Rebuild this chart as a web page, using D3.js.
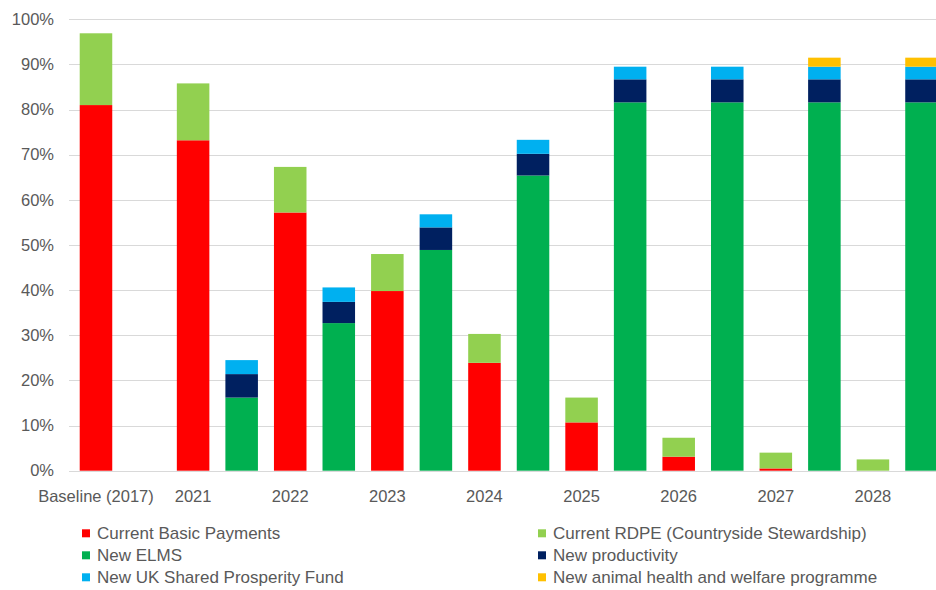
<!DOCTYPE html>
<html lang="en">
<head>
    <meta charset="UTF-8">
    <title>Farm payments transition</title>
    <script src="https://d3js.org/d3.v7.min.js"></script>
    <style>
        body { margin: 0; background: #fff; }
        svg { display: block; }
        .tick-label, .legend-label {
            font-family: "Liberation Sans", Arial, sans-serif;
            font-size: 16.5px;
            fill: #595959;
        }
        .legend-label { font-size: 17px; }
        .grid line { stroke: #d9d9d9; stroke-width: 1; }
    </style>
</head>
<body>
    <svg class="chart" width="936" height="590"></svg>

    <script>
        // One slot per bar; the "current" and "new" bar of a year sit side by side
        const slotLabels = ["Baseline (2017)", "", "2021", "", "2022", "", "2023", "", "2024", "",
                            "2025", "", "2026", "", "2027", "", "2028", ""];

        const basicPayments = [81.0, 0, 73.2, 0, 57.2, 0, 39.8, 0, 23.9, 0, 10.7, 0, 3.1, 0, 0.5, 0, 0, 0];
        const rdpe          = [15.9, 0, 12.6, 0, 10.1, 0, 8.2, 0, 6.4, 0, 5.5, 0, 4.2, 0, 3.5, 0, 2.5, 0];
        const newElms       = [0, 0, 0, 16.2, 0, 32.7, 0, 48.9, 0, 65.4, 0, 81.6, 0, 81.6, 0, 81.6, 0, 81.6];
        const newProd       = [0, 0, 0, 5.2, 0, 4.7, 0, 5.0, 0, 4.8, 0, 5.1, 0, 5.1, 0, 5.1, 0, 5.1];
        const newUkspf      = [0, 0, 0, 3.1, 0, 3.2, 0, 2.9, 0, 3.1, 0, 2.8, 0, 2.8, 0, 2.8, 0, 2.8];
        const newAnimal     = [0, 0, 0, 0, 0, 0, 0, 0, 0, 0, 0, 0, 0, 0, 0, 2.0, 0, 2.0];

        const yTicks = [0, 10, 20, 30, 40, 50, 60, 70, 80, 90, 100];

        const series = [
            { key: "basic",  name: "Current Basic Payments",                  color: "#ff0000", values: basicPayments },
            { key: "rdpe",   name: "Current RDPE (Countryside Stewardship)",  color: "#92d050", values: rdpe },
            { key: "elms",   name: "New ELMS",                                color: "#00b050", values: newElms },
            { key: "prod",   name: "New productivity",                        color: "#002060", values: newProd },
            { key: "ukspf",  name: "New UK Shared Prosperity Fund",           color: "#00b0f0", values: newUkspf },
            { key: "animal", name: "New animal health and welfare programme", color: "#ffc000", values: newAnimal }
        ];

        const rows = slotLabels.map((label, i) => {
            const row = { slot: i, label: label };
            series.forEach(s => row[s.key] = s.values[i]);
            return row;
        });

        const svg = d3.select(".chart");

        const x = d3.scaleBand()
            .domain(d3.range(slotLabels.length))
            .range([71.7, 71.7 + 18 * 48.56])
            .paddingInner(0.33)
            .paddingOuter(0.165);

        const y = d3.scaleLinear().domain([0, 100]).range([470.7, 19.3]);

        // gridlines
        svg.append("g")
            .attr("class", "grid")
            .selectAll("line")
            .data(yTicks)
            .join("line")
            .attr("x1", 69)
            .attr("x2", 936)
            .attr("y1", d => Math.round(y(d)) + 0.5)
            .attr("y2", d => Math.round(y(d)) + 0.5);

        // y tick labels
        svg.append("g")
            .selectAll("text")
            .data(yTicks)
            .join("text")
            .attr("class", "tick-label")
            .attr("x", 54)
            .attr("y", d => y(d))
            .attr("dy", "0.35em")
            .attr("text-anchor", "end")
            .text(d => d + "%");

        // stacked bars
        const stacked = d3.stack().keys(series.map(s => s.key))(rows);

        svg.append("g")
            .selectAll("g")
            .data(stacked)
            .join("g")
            .attr("fill", (d, i) => series[i].color)
            .selectAll("rect")
            .data(d => d.filter(p => p[1] - p[0] > 0))
            .join("rect")
            .attr("x", d => x(d.data.slot))
            .attr("width", x.bandwidth())
            .attr("y", d => y(d[1]))
            .attr("height", d => y(d[0]) - y(d[1]));

        // x labels (only under the first bar of each year)
        svg.append("g")
            .selectAll("text")
            .data(rows.filter(r => r.label !== ""))
            .join("text")
            .attr("class", "tick-label")
            .attr("x", d => x(d.slot) + x.bandwidth() / 2)
            .attr("y", 496.7)
            .attr("dy", "0.35em")
            .attr("text-anchor", "middle")
            .text(d => d.label);

        // legend, two columns
        const legendOrder = ["basic", "rdpe", "elms", "prod", "ukspf", "animal"];
        const legend = svg.append("g")
            .selectAll("g")
            .data(legendOrder.map(k => series.find(s => s.key === k)))
            .join("g")
            .attr("transform", (d, i) => `translate(${i % 2 === 0 ? 82 : 538},${533.3 + Math.floor(i / 2) * 22})`);

        legend.append("rect")
            .attr("x", 0)
            .attr("y", -4)
            .attr("width", 8)
            .attr("height", 8)
            .attr("fill", d => d.color);

        legend.append("text")
            .attr("class", "legend-label")
            .attr("x", 15)
            .attr("dy", "0.35em")
            .text(d => d.name);
    </script>
</body>
</html>
